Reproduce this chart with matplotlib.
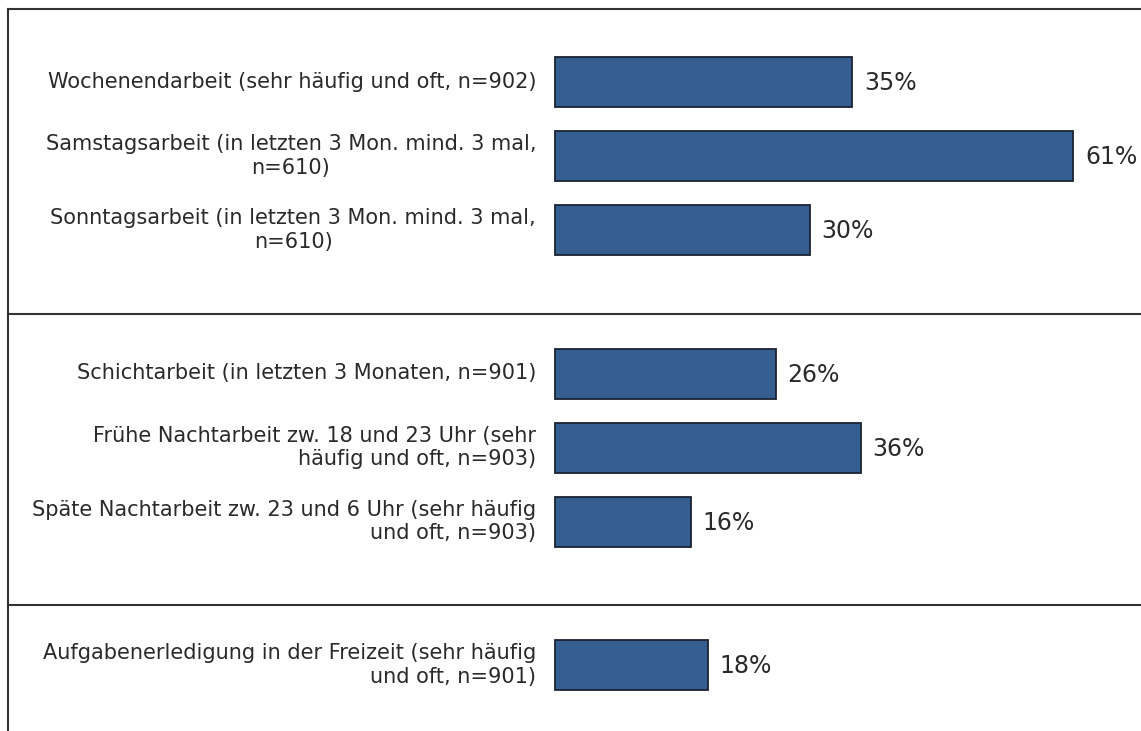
"""
Arbeitszeiten ausserhalb der Normalarbeitszeit - horizontal bar chart.

Saves:
    out.png
"""

import matplotlib
matplotlib.use("Agg")
import matplotlib.pyplot as plt

# ----------------------------------
# DATA
# ----------------------------------

labels = [
    "Wochenendarbeit (sehr häufig und oft, n=902)",
    "Samstagsarbeit (in letzten 3 Mon. mind. 3 mal,\nn=610)",
    "Sonntagsarbeit (in letzten 3 Mon. mind. 3 mal,\nn=610)",
    "Schichtarbeit (in letzten 3 Monaten, n=901)",
    "Frühe Nachtarbeit zw. 18 und 23 Uhr (sehr\nhäufig und oft, n=903)",
    "Späte Nachtarbeit zw. 23 und 6 Uhr (sehr häufig\nund oft, n=903)",
    "Aufgabenerledigung in der Freizeit (sehr häufig\nund oft, n=901)",
]
values = [35, 61, 30, 26, 36, 16, 18]
group_sizes = [3, 3, 1]
label_align = ["right", "center", "center", "right", "right", "right", "right"]

# ----------------------------------
# LAYOUT (pixel based, figure is 1141 x 731)
# ----------------------------------

W, H = 1141, 731
BAR_X0 = 555          # pixel where 0% sits
PX_PER_PCT = 8.49     # pixel width of one percent
FIRST_Y = 82
SLOT = 74
GROUP_PITCH = 291.5
BAR_H = 50

BAR_COLOR = "#365F91"
EDGE_COLOR = "#1c2233"
LINE_COLOR = "#333333"
TEXT_COLOR = "#2a2a2a"

# bar centre rows, derived from the group structure
ypos = []
separators = []
for g, n in enumerate(group_sizes):
    start = FIRST_Y + g * GROUP_PITCH
    if g > 0:
        separators.append(start - 60)
    for i in range(n):
        ypos.append(start + i * SLOT)


def px_to_x(px):
    return (px - BAR_X0) / PX_PER_PCT


# ----------------------------------
# PLOT
# ----------------------------------

fig = plt.figure(figsize=(W / 100, H / 100), dpi=100)
ax = fig.add_axes([0, 0, 1, 1])
ax.set_xlim(px_to_x(0), px_to_x(W))
ax.set_ylim(H, 0)
ax.axis("off")

ax.barh(ypos, values, height=BAR_H, left=0,
        color=BAR_COLOR, edgecolor=EDGE_COLOR, linewidth=1.3)

for y, v in zip(ypos, values):
    ax.text(v + 12 / PX_PER_PCT, y + 1, f"{v}%",
            ha="left", va="center", fontsize=17,
            family="DejaVu Sans", color=TEXT_COLOR)

for y, lab, al in zip(ypos, labels, label_align):
    ax.text(px_to_x(536), y, lab, ha="right", va="center",
            multialignment=al, fontsize=15, linespacing=1.2,
            family="DejaVu Sans", color=TEXT_COLOR)

# frame: left + top border and group separators
ax.plot([px_to_x(8), px_to_x(8)], [9, H], color=LINE_COLOR, lw=1.5)
ax.plot([px_to_x(8), px_to_x(W)], [9, 9], color=LINE_COLOR, lw=1.5)
for s in separators:
    ax.plot([px_to_x(8), px_to_x(W)], [s, s], color=LINE_COLOR, lw=1.5)

fig.savefig("out.png", dpi=100)
plt.close(fig)
